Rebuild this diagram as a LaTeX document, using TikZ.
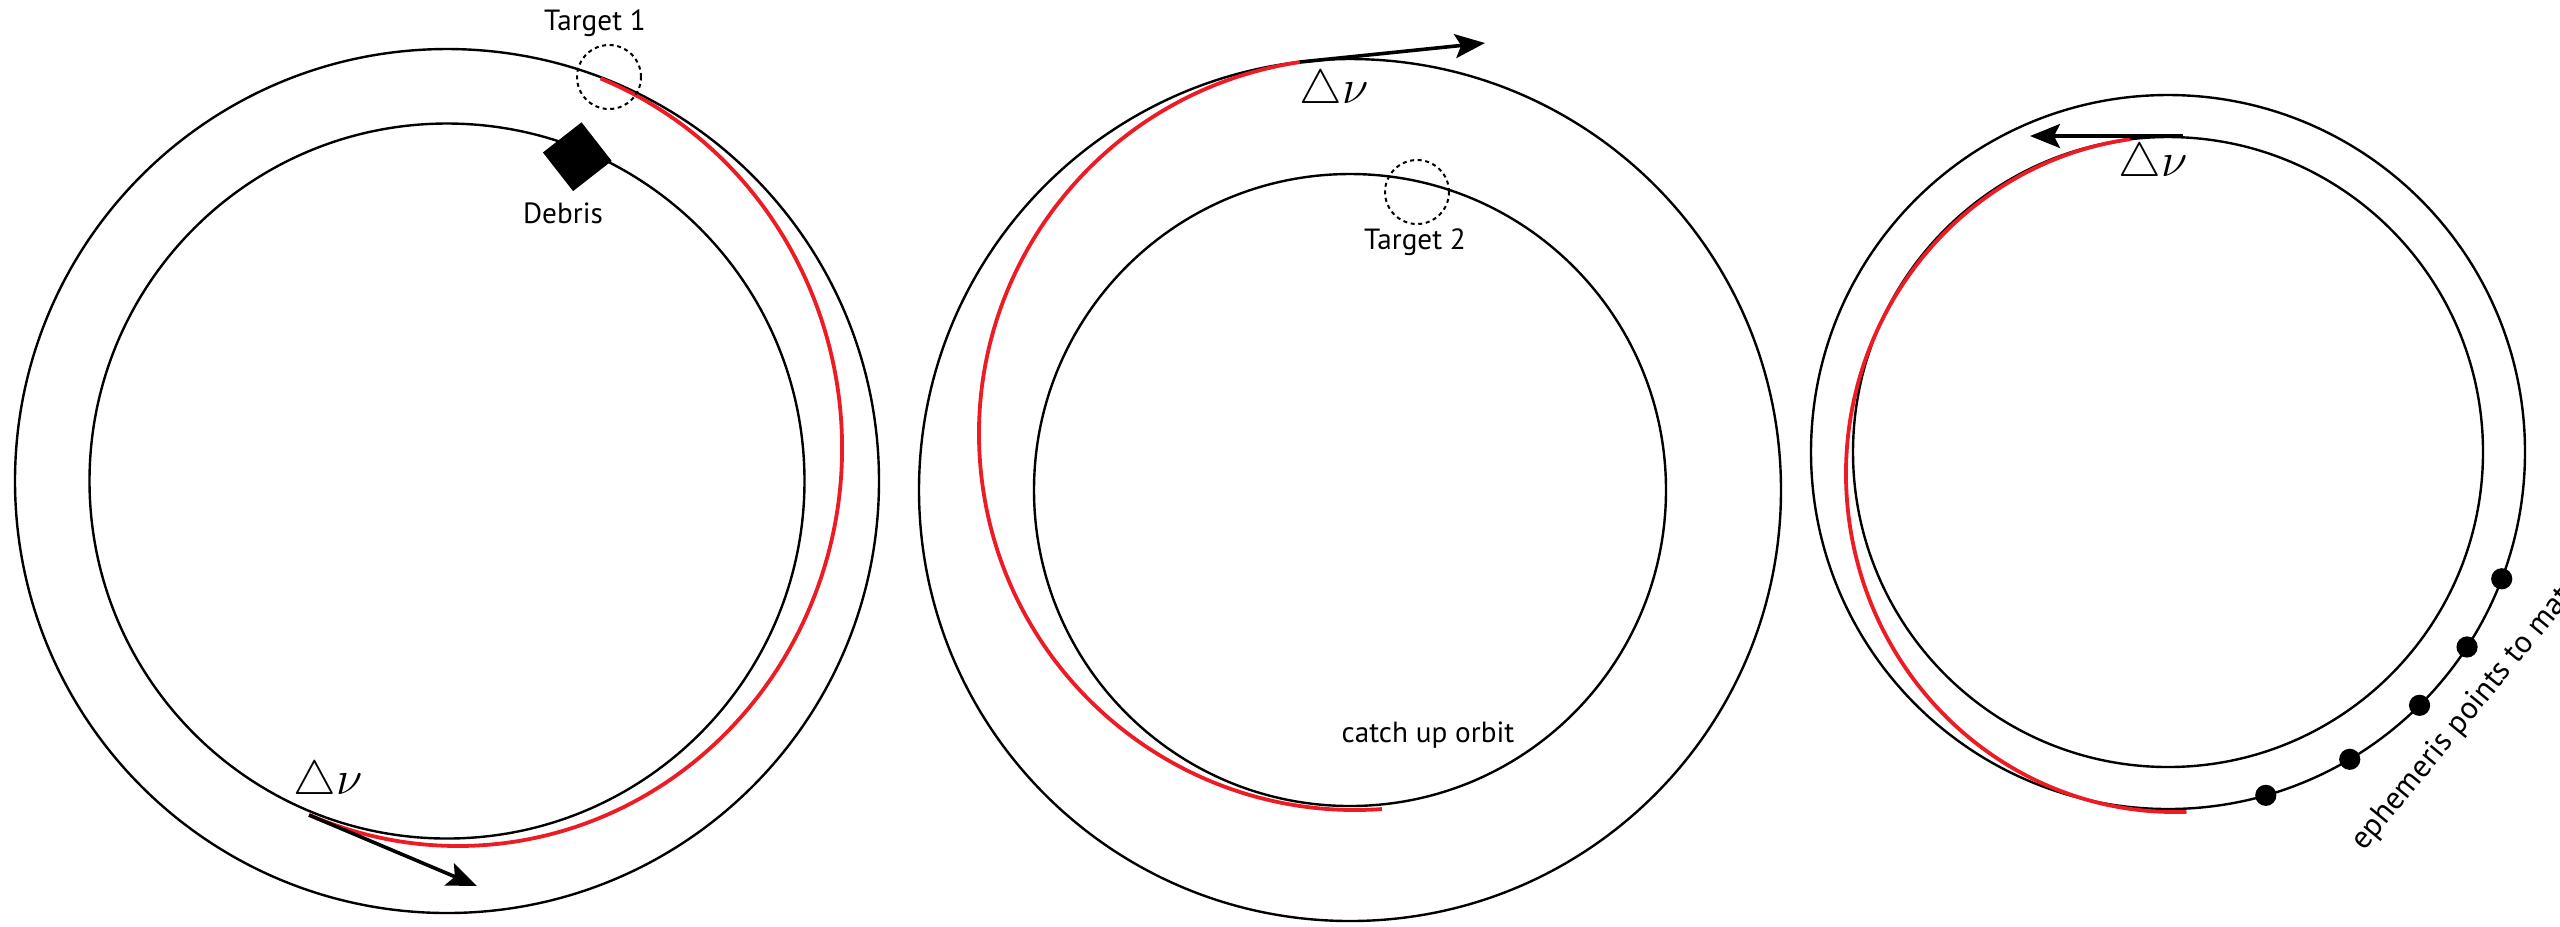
\documentclass[tikz,border=0pt]{standalone}
\usepackage{fontspec}
\setmainfont{PT Sans}
\usetikzlibrary{arrows.meta}
\definecolor{orbitred}{RGB}{237,28,36}
\begin{document}
\begin{tikzpicture}[x=0.25pt,y=0.25pt,
  orbit/.style={draw=black,line width=0.6pt},
  transfer/.style={draw=orbitred,line width=0.95pt},
  dvarrow/.style={draw=black,line width=0.9pt,-{Stealth[length=7.5pt,width=6pt,inset=1.5pt]}},
  tgt/.style={circle,draw=black,dashed,dash pattern=on 1pt off 0.9pt,line width=0.5pt,minimum size=16pt,inner sep=0pt},
  lbl/.style={font=\fontsize{7.3}{8}\selectfont,inner sep=0pt},
  ephlbl/.style={font=\fontsize{7.9}{8}\selectfont,inner sep=0pt},
  dvlbl/.style={font=\fontsize{11.5}{12}\selectfont,inner sep=0pt},
  debrisbox/.style={fill=black,draw=none,minimum size=12.25pt,inner sep=0pt,rotate=38},
  ephdot/.style={circle,fill=black,draw=none,minimum size=5.3pt,inner sep=0pt}]
\useasboundingbox (0,0) rectangle (2560,-926);
\clip (0,0) rectangle (2560,-926);
% ---------- panel 1 ----------
\coordinate (c1) at (447,-481);
\draw[orbit] (c1) circle[radius=432];
\draw[orbit] (c1) circle[radius=357.5];
\draw[transfer] (458,-448) ++(68.2:384 and 398) arc[start angle=68.2,end angle=-112.8,x radius=384,y radius=398];
\node[tgt] (t1) at (609,-77) {};
\node[lbl] (t1l) at (595,-23) {Target 1};
\node[debrisbox] (deb) at (577.3,-156.7) {};
\node[lbl] (debl) at (563,-213) {Debris};
\coordinate (d1s) at (309,-815);
\coordinate (d1e) at (477,-886);
\draw[dvarrow] (d1s) -- (d1e);
\node[dvlbl] (d1l) at (328,-782.5) {$\triangle\nu$};
% ---------- panel 2 ----------
\coordinate (c2) at (1350,-490);
\draw[orbit] (c2) circle[radius=431];
\draw[orbit] (c2) circle[radius=316];
\draw[transfer] (1355,-434) ++(98.4:376) arc[start angle=98.4,end angle=274.1,radius=376];
\node[tgt] (t2) at (1417,-192) {};
\node[lbl] (t2l) at (1415,-242) {Target 2};
\coordinate (d2s) at (1300,-62);
\coordinate (d2e) at (1485,-43);
\draw[dvarrow] (d2s) -- (d2e);
\node[dvlbl] (d2l) at (1334,-91) {$\triangle\nu$};
\node[lbl] (cul) at (1428,-735) {catch up orbit};
% ---------- panel 3 ----------
\coordinate (c3) at (2168,-452);
\draw[orbit] (c3) circle[radius=357];
\draw[orbit] (c3) circle[radius=315];
\draw[transfer] (2175,-474) ++(97.8:329 and 338) arc[start angle=97.8,end angle=272,x radius=329,y radius=338];
\coordinate (d3s) at (2183,-136);
\coordinate (d3e) at (2030,-136);
\draw[dvarrow] (d3s) -- (d3e);
\node[dvlbl] (d3l) at (2153,-164) {$\triangle\nu$};
\node[ephdot] (e1) at ([shift={(-20.8:357)}]c3) {};
\node[ephdot] (e2) at ([shift={(-33.1:357)}]c3) {};
\node[ephdot] (e3) at ([shift={(-45.2:357)}]c3) {};
\node[ephdot] (e4) at ([shift={(-59.4:357)}]c3) {};
\node[ephdot] (e5) at ([shift={(-74.1:357)}]c3) {};
\node[ephlbl,rotate=50.6,anchor=base west] (ephl) at (2364,-852) {ephemeris points to match};
\end{tikzpicture}
\end{document}
